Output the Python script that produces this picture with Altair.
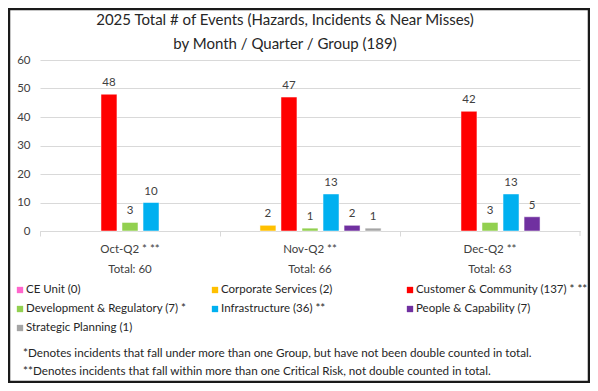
import altair as alt
import pandas as pd

months = ["Oct-Q2 * **", "Nov-Q2 **", "Dec-Q2 **"]
totals = [60, 66, 63]
groups = [
    "CE Unit (0)",
    "Corporate Services (2)",
    "Customer & Community (137) * **",
    "Development & Regulatory (7) *",
    "Infrastructure (36) **",
    "People & Capability (7)",
    "Strategic Planning (1)",
]
colors = ["#FF66CC", "#FFC000", "#FF0000", "#92D050", "#00B0F0", "#7030A0", "#A5A5A5"]
ce_unit = [0, 0, 0]
corporate = [0, 2, 0]
customer = [48, 47, 42]
development = [3, 1, 3]
infrastructure = [10, 13, 13]
people = [0, 2, 5]
strategic = [0, 1, 0]
y_ticks = [0, 10, 20, 30, 40, 50, 60]
title_lines = ["2025 Total # of Events (Hazards, Incidents & Near Misses)",
               "by Month / Quarter / Group (189)"]
footnotes = [
    "*Denotes incidents that fall under more than one Group, but have not been double counted in total.",
    "**Denotes incidents that fall within more than one Critical Risk, not double counted in total.",
]

series = [ce_unit, corporate, customer, development, infrastructure, people, strategic]
month_labels = [f"{m}|Total: {t}" for m, t in zip(months, totals)]
rows = []
for g, vals in zip(groups, series):
    for ml, v in zip(month_labels, vals):
        rows.append({"month": ml, "group": g, "value": v})
df = pd.DataFrame(rows)

FONT = "Lato"
TXT = "#404040"
GRID = "#D9D9D9"

color_scale = alt.Scale(domain=groups, range=colors)

x_enc = alt.X("month:N", sort=month_labels, title=None,
              scale=alt.Scale(paddingInner=0, paddingOuter=0),
              axis=alt.Axis(labelExpr="split(datum.label, '|')", labelAngle=0,
                            labelLineHeight=20, labelPadding=7, tickSize=5,
                            bandPosition=0, domainColor=GRID, tickColor=GRID,
                            labelFontSize=11.5, labelColor=TXT, labelFont=FONT))
xoff = alt.XOffset("group:N", sort=groups,
                   scale=alt.Scale(domain=groups, paddingInner=0.24, paddingOuter=0.9))
y_enc = alt.Y("value:Q", title=None,
              scale=alt.Scale(domain=[0, 60], nice=False),
              axis=alt.Axis(values=y_ticks, tickCount=7, domain=False, ticks=False,
                            labelPadding=10, gridColor=GRID, labelFontSize=11.5,
                            labelColor=TXT, labelFont=FONT))

base = alt.Chart(df).transform_filter("datum.value > 0")

bars = base.mark_bar(stroke="white", strokeWidth=0.5).encode(
    x=x_enc, xOffset=xoff, y=y_enc,
    color=alt.Color("group:N", sort=groups, scale=color_scale, legend=None),
)

labels = base.mark_text(baseline="alphabetic", dy=-8, fontSize=11.5, font=FONT,
                        color=TXT).encode(
    x=x_enc, xOffset=xoff, y=y_enc, text="value:Q")

main = alt.layer(bars, labels)

# manual legend laid out in a 3-column grid (row-major), like the reference
legend_base = alt.Chart(pd.DataFrame({"group": groups})).transform_window(
    idx="row_number()"
).transform_calculate(
    col="(datum.idx - 1) % 3",
    row="floor((datum.idx - 1) / 3)",
    lx="-20 + datum.col * 195",
    ly="230 + datum.row * 19",
)
legend_sym = legend_base.mark_square(size=40, opacity=1).encode(
    x=alt.X("lx:Q", scale=None, axis=None),
    y=alt.Y("ly:Q", scale=None, axis=None),
    color=alt.Color("group:N", scale=color_scale, legend=None),
)
legend_txt = legend_base.mark_text(align="left", baseline="middle", dx=6,
                                   fontSize=11.5, font=FONT, color="#262626").encode(
    x=alt.X("lx:Q", scale=None, axis=None),
    y=alt.Y("ly:Q", scale=None, axis=None),
    text="group:N",
)

one = pd.DataFrame({"k": [0]})

end_tick = alt.Chart(one).mark_rule(color=GRID).encode(
    x=alt.value(540), y=alt.value(171), y2=alt.value(176))

title = alt.Chart(one).mark_text(
    align="center", baseline="middle", fontSize=15, font=FONT, color="#262626",
    lineHeight=23.5).encode(
    x=alt.value(245), y=alt.value(-40), text=alt.value(title_lines))

notes = alt.Chart(one).mark_text(
    align="left", baseline="middle", fontSize=11.7, font=FONT, color="#262626",
    lineHeight=18).encode(
    x=alt.value(-17), y=alt.value(293), text=alt.value(footnotes))

frame = alt.Chart(one).mark_rect(
    fillOpacity=0, stroke="#1a1a1a", strokeWidth=2.5).encode(
    x=alt.value(-31), x2=alt.value(549), y=alt.value(-51), y2=alt.value(322))

chart = alt.layer(main, end_tick, legend_sym, legend_txt, title, notes, frame).resolve_scale(
    x="independent", y="independent"
).properties(
    width=540, height=171,
    autosize=alt.AutoSizeParams(type="none"),
    padding={"left": 32, "top": 52, "right": 10, "bottom": 152},
).configure_view(stroke=None)

chart.save("out.html", embed_options={"renderer": "svg", "actions": False})
